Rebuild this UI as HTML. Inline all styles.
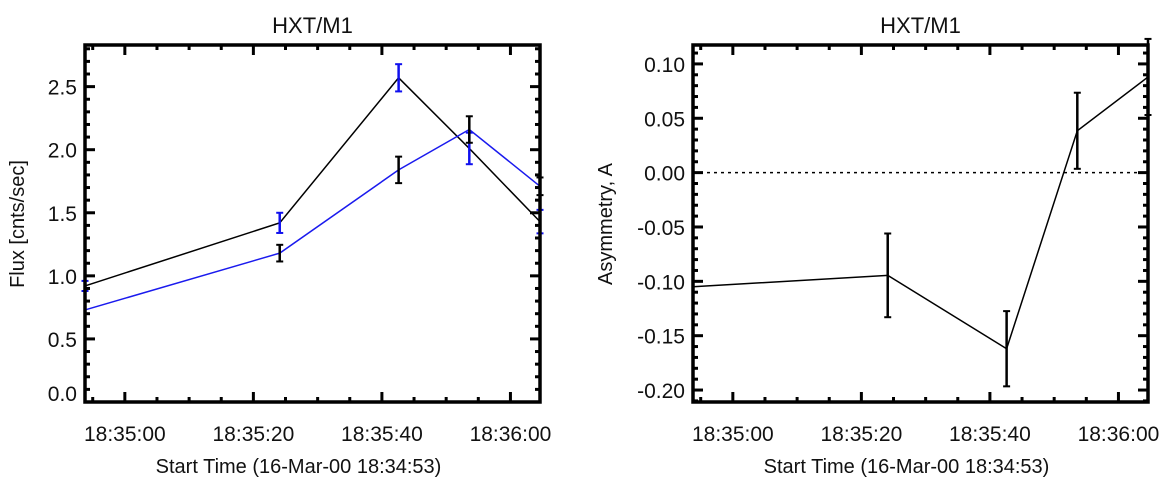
<!DOCTYPE html>
<html><head><meta charset="utf-8"><style>
html,body{margin:0;padding:0;background:#fff;}
svg{display:block;font-family:"Liberation Sans",Arial,sans-serif;}
</style></head><body>
<svg id="c" width="1171" height="482" viewBox="0 0 1171 482" xmlns="http://www.w3.org/2000/svg"></svg>
<script>
// data (time in seconds relative to 18:35:00)
const times = [-6.2, 24.1, 42.6, 53.6, 64.6];
const fluxBlack = [0.92, 1.42, 2.57, 2.01, 1.43];
const fluxBlackErr = [0.04, 0.08, 0.108, 0.125, 0.093];
const fluxBlue = [0.73, 1.18, 1.84, 2.16, 1.71];
const fluxBlueErr = [0, 0.066, 0.105, 0.105, 0.07];
const asym = [-0.105, -0.0945, -0.162, 0.0385, 0.088];
const asymErr = [0, 0.0385, 0.0346, 0.035, 0.035];
const xTickVals = [0, 20, 40, 60];
const xTickLabels = ["18:35:00", "18:35:20", "18:35:40", "18:36:00"];
const leftYTicks = [0, 0.5, 1.0, 1.5, 2.0, 2.5];
const leftYLabels = ["0.0", "0.5", "1.0", "1.5", "2.0", "2.5"];
const rightYTicks = [-0.2, -0.15, -0.1, -0.05, 0, 0.05, 0.1];
const rightYLabels = ["-0.20", "-0.15", "-0.10", "-0.05", "0.00", "0.05", "0.10"];

const NS = "http://www.w3.org/2000/svg";
const svg = document.getElementById('c');
function mk(tag, attrs, parent) {
  const e = document.createElementNS(NS, tag);
  for (const k in attrs) e.setAttribute(k, attrs[k]);
  (parent || svg).appendChild(e);
  return e;
}
function panel(cfg) {
  const g = mk('g', {});
  
  
  const L = cfg.x0, R = cfg.x1, T = 45, B = 402;
  const xs = t => L + (t - cfg.tmin) / (cfg.tmax - cfg.tmin) * (R - L);
  const ys = v => B - (v - cfg.ymin) / (cfg.ymax - cfg.ymin) * (B - T);
  const tt = mk('text', {x: (L + R) / 2, y: 33, 'text-anchor': 'middle', 'font-size': 22, fill: '#111'}, g);
  tt.textContent = 'HXT/M1';
  
  
  for (let t = -5; t <= cfg.tmax; t += 5) {
    const x = xs(t); if (x < L || x > R) continue;
    const major = (t % 20 === 0);
    const len = major ? 10 : 5;
    mk('line', {x1: x, y1: B, x2: x, y2: B - len, stroke: '#000', 'stroke-width': 3}, g);
    mk('line', {x1: x, y1: T, x2: x, y2: T + len, stroke: '#000', 'stroke-width': 3}, g);
  }
  xTickVals.forEach((t, i) => {
    const tx = mk('text', {x: xs(t), y: 441, 'text-anchor': 'middle', 'font-size': 21, fill: '#111'}, g);
    tx.textContent = xTickLabels[i];
    
    
  });
  const start = Math.ceil(cfg.ymin / cfg.minor - 1e-6);
  for (let k = start; k * cfg.minor <= cfg.ymax + 1e-9; k++) {
    const v = k * cfg.minor; const y = ys(v);
    const major = Math.abs(Math.round(v / cfg.major) * cfg.major - v) < 1e-6;
    const len = major ? 10 : 5;
    mk('line', {x1: L, y1: y, x2: L + len, y2: y, stroke: '#000', 'stroke-width': 3}, g);
    mk('line', {x1: R, y1: y, x2: R - len, y2: y, stroke: '#000', 'stroke-width': 3}, g);
  }
  cfg.yTicks.forEach((v, i) => {
    let y = ys(v) + 8; if (y > B) y = B - 1;
    const ty = mk('text', {x: L - 8, y: y, 'text-anchor': 'end', 'font-size': 21, fill: '#111'}, g);
    ty.textContent = cfg.yLabels[i];
    
    
  });
  const xt = mk('text', {x: (L + R) / 2 - 14, y: 473, 'text-anchor': 'middle', 'font-size': 20, fill: '#111'}, g);
  xt.textContent = 'Start Time (16-Mar-00 18:34:53)';
  
  
  const yc = 224;
  const yt = mk('text', {x: cfg.ytx, y: yc, 'text-anchor': 'middle', 'font-size': 20, fill: '#111', transform: `rotate(-90 ${cfg.ytx} ${yc})`}, g);
  yt.textContent = cfg.ytitle;
  
  
  cfg.series.forEach(s => {
    const pts = times.map((t, i) => xs(t) + ',' + ys(s.vals[i])).join(' ');
    const pl = mk('polyline', {points: pts, fill: 'none', stroke: s.color, 'stroke-width': 1.5}, g);
    
    
    times.forEach((t, i) => {
      const e = s.err[i]; if (!e) return;
      const x = xs(t), y1 = ys(s.vals[i] - e), y2 = ys(s.vals[i] + e);
      const eg = mk('g', {stroke: s.ecolor, 'stroke-width': 2.5}, g);
      
      
      mk('line', {x1: x, y1: y1, x2: x, y2: y2}, eg);
      mk('line', {x1: x - 3.5, y1: y1, x2: x + 3.5, y2: y1, 'stroke-width': 2}, eg);
      mk('line', {x1: x - 3.5, y1: y2, x2: x + 3.5, y2: y2, 'stroke-width': 2}, eg);
    });
  });
  if (cfg.zero) {
    const zl = mk('line', {x1: L, y1: ys(0), x2: R, y2: ys(0), stroke: '#000', 'stroke-width': 1.5, 'stroke-dasharray': '3,4'}, g);
    
    
  }
  const fr = mk('rect', {x: L, y: T, width: R - L, height: B - T, fill: 'none', stroke: '#000', 'stroke-width': 3.5}, g);
  
  
}
panel({name: 'flux-panel', x0: 85, x1: 540, tmin: -6.2, tmax: 64.6, ymin: 0, ymax: 2.83,
  minor: 0.1, major: 0.5, yTicks: leftYTicks, yLabels: leftYLabels, ytx: 24, ytitle: 'Flux [cnts/sec]',
  series: [
    {name: 'flux-black-line', vals: fluxBlack, err: fluxBlackErr, color: '#000', ecolor: '#1010ee'},
    {name: 'flux-blue-line', vals: fluxBlue, err: fluxBlueErr, color: '#1a1aee', ecolor: '#000'}
  ]});
panel({name: 'asymmetry-panel', x0: 693, x1: 1148, tmin: -6.2, tmax: 64.6, ymin: -0.211, ymax: 0.1174,
  minor: 0.01, major: 0.05, yTicks: rightYTicks, yLabels: rightYLabels, ytx: 612, ytitle: 'Asymmetry, A', zero: true,
  series: [
    {name: 'asymmetry-line', vals: asym, err: asymErr, color: '#000', ecolor: '#000'}
  ]});
</script>
</body></html>
